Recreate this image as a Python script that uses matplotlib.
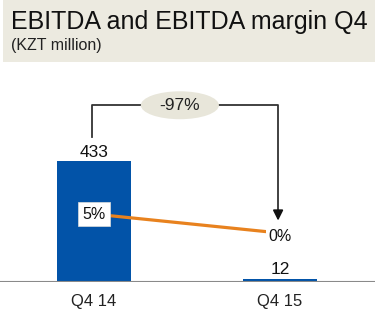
import matplotlib.pyplot as plt
from matplotlib.patches import Ellipse, Rectangle

plt.rcParams['font.family'] = ['Liberation Sans', 'DejaVu Sans']

quarters = ['Q4 14', 'Q4 15']
ebitda = [433, 12]
margin = [5, 0]
margin_labels = ['5%', '0%']
change_label = '-97%'

fig = plt.figure(figsize=(3.75, 3.32), dpi=100)

# header band
fig.patches.append(Rectangle((0.008, 0.813), 0.992, 0.187, transform=fig.transFigure,
                             facecolor='#ECEAE0', edgecolor='none', zorder=0))
fig.text(0.03, 0.935, 'EBITDA and EBITDA margin Q4', fontsize=18, va='center', color='#111111')
fig.text(0.03, 0.862, '(KZT million)', fontsize=11.5, va='center', color='#222222')

ax = fig.add_axes([0, 0.1506, 1, 0.638])
x = [0, 1]
ax.bar(x, ebitda, width=0.398, color='#0253A8', zorder=2)
ax.set_xlim(-0.505, 1.511)
ax.set_ylim(0, 758.6)
ax.axhline(0, color='#8A8A8A', lw=1.5, zorder=3)
for xi, v in zip(x, ebitda):
    ax.text(xi, v + 32, str(v), ha='center', va='center', fontsize=12.5, color='#111111')
for xi, q in zip(x, quarters):
    ax.text(xi, -70, q, ha='center', va='center', fontsize=12, color='#222222', clip_on=False)
for s in ax.spines.values():
    s.set_visible(False)
ax.set_xticks([])
ax.set_yticks([])

# change bracket
top = 633
ax.plot([-0.01, -0.01, 0.99, 0.99], [519, top, top, 232], color='#333333', lw=1.3, zorder=4)
ax.annotate('', xy=(0.99, 210), xytext=(0.99, 245),
            arrowprops=dict(arrowstyle='-|>', color='#111111', lw=1.3, mutation_scale=15), zorder=4)
ax.add_patch(Ellipse((0.462, top), 0.42, 100, facecolor='#E8E6DA', edgecolor='none', zorder=5))
ax.text(0.462, top, change_label, ha='center', va='center', fontsize=12.5, color='#222222', zorder=6)

# margin line
ax2 = ax.twinx()
ax2.set_ylim(-12.9, 42.9)
ax2.plot(x, margin, color='#E8821E', lw=2.3, zorder=2)
ax2.text(x[0], margin[0], margin_labels[0], ha='center', va='center', fontsize=11.5, color='#111111',
         bbox=dict(facecolor='white', edgecolor='#DDDDDD', lw=0.5, pad=3), zorder=5)
ax2.text(x[1], margin[1] - 1, margin_labels[1], ha='center', va='center', fontsize=11.5, color='#111111',
         bbox=dict(facecolor='white', edgecolor='none', pad=2), zorder=5)
ax2.set_yticks([])
for s in ax2.spines.values():
    s.set_visible(False)

fig.savefig('out.png', dpi=100)
